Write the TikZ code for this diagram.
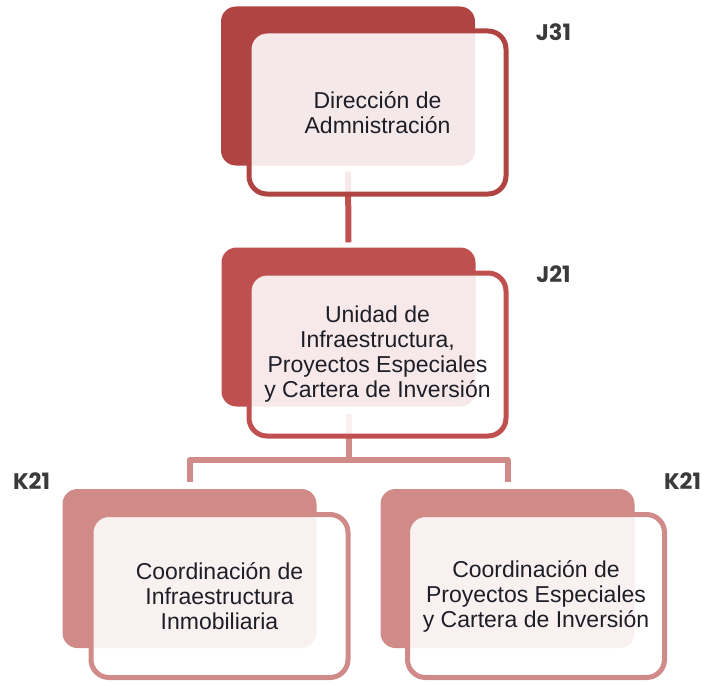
\documentclass[tikz,border=0pt]{standalone}
\usepackage{fontspec}
\setmainfont{Liberation Sans}
\newfontfamily\codefont{Poppins}
\definecolor{ctop}{HTML}{AF4442}
\definecolor{cmid}{HTML}{C0504F}
\definecolor{cbot}{HTML}{D08A88}
\definecolor{ctext}{HTML}{1E1E28}
\definecolor{clabel}{HTML}{3A3A3A}
\begin{document}
\begin{tikzpicture}[x=1pt,y=-1pt,
  backbox/.style={rectangle, rounded corners=15pt, minimum width=254pt, minimum height=159pt, inner sep=0pt, fill=#1},
  frontbox/.style={rectangle, rounded corners=18pt, minimum width=257pt, minimum height=163pt, inner sep=0pt, draw=#1, line width=5pt, fill=white, fill opacity=0.88, text opacity=1, text=ctext, align=center, font=\fontsize{23}{25}\selectfont},
  link/.style={draw=#1, line width=6pt},
  code/.style={font=\codefont\bfseries\fontsize{22.5}{24}\selectfont, text=clabel, inner sep=0pt}]
\useasboundingbox (0,0) rectangle (703,685);
% back shapes
\node[backbox=ctop] (b1) at (348,86) {};
\node[backbox=cmid] (b2) at (348.5,327) {};
\node[backbox=cbot] (b3) at (189.5,568.5) {};
\node[backbox=cbot] (b4) at (507.5,568.5) {};
% connectors
\draw[link=cmid, shorten <=6pt, shorten >=5pt] (b1.south) -- (b2.north);
\coordinate (j) at (348.5,460);
\draw[link=cbot, shorten <=7pt] (b2.south) -- (j);
\draw[link=cbot, line join=round, shorten <=7pt, shorten >=7pt] (b3.north) |- (j) -| (b4.north);
% front boxes
\node[frontbox=ctop] (f1) at (377.5,112.5) {Dirección de\\Admnistración};
\node[frontbox=cmid] (f2) at (377.5,354.5) {Unidad de\\Infraestructura,\\Proyectos Especiales\\y Cartera de Inversión};
\node[frontbox=cbot] (f3) at (219.5,596) {Coordinación de\\Infraestructura\\Inmobiliaria};
\node[frontbox=cbot] (f4) at (536,596) {Coordinación de\\Proyectos Especiales\\y Cartera de Inversión};
% labels
\node[code] (l1) at (553.5,32) {J31};
\node[code] (l2) at (553.5,274) {J21};
\node[code] (l3) at (31.5,481) {K21};
\node[code] (l4) at (682.5,481) {K21};
\end{tikzpicture}
\end{document}
